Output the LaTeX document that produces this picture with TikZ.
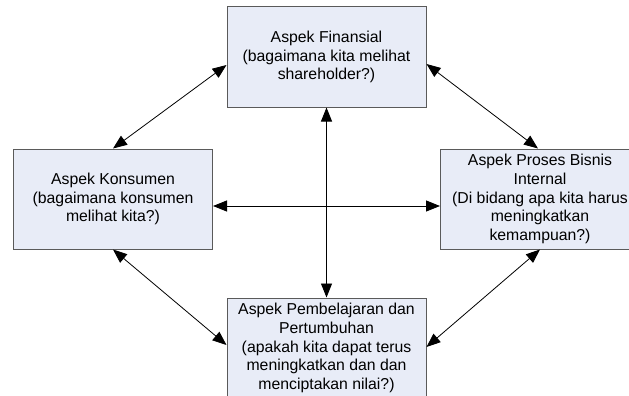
\documentclass[tikz,border=0pt]{standalone}
\usepackage{fontspec}
\setmainfont{Liberation Sans}
\usetikzlibrary{arrows.meta}
\definecolor{boxfill}{HTML}{E8ECF7}
\definecolor{boxline}{HTML}{5A5A5A}
\begin{document}
\begin{tikzpicture}[x=1pt,y=-1pt,
  aspect/.style={draw=boxline,line width=1pt,fill=boxfill,minimum width=199pt,minimum height=100pt,
    inner sep=0pt,align=center,font=\fontsize{15.8}{18.8}\selectfont},
  link/.style={line width=0.8pt,{Triangle[length=14pt,width=11pt]}-{Triangle[length=14pt,width=11pt]}}]
\useasboundingbox (0,0) rectangle (629,396);
\node[aspect] (fin) at (326.5,57) {Aspek Finansial\\(bagaimana kita melihat\\shareholder?)};
\node[aspect] (kon) at (113,199) {Aspek Konsumen\\(bagaimana konsumen\\melihat kita?)};
\node[aspect] (pro) at (540,199) {Aspek Proses Bisnis\\Internal\\(Di bidang apa kita harus\\meningkatkan\\kemampuan?)};
\node[aspect] (bel) at (326.5,348) {Aspek Pembelajaran dan\\Pertumbuhan\\(apakah kita dapat terus\\meningkatkan dan dan\\menciptakan nilai?)};
\draw[link] (kon.north) -- ([yshift=-8pt]fin.west);
\draw[link] ([yshift=-7pt]fin.east) -- ([xshift=-2pt]pro.north);
\draw[link] (kon.south) -- ([yshift=3pt]bel.west);
\draw[link] (pro.south) -- ([yshift=1pt]bel.east);
\draw[link] (fin.south) -- (bel.north);
\draw[link] ([yshift=-7pt]kon.east) -- ([yshift=-7pt]pro.west);
\end{tikzpicture}
\end{document}
